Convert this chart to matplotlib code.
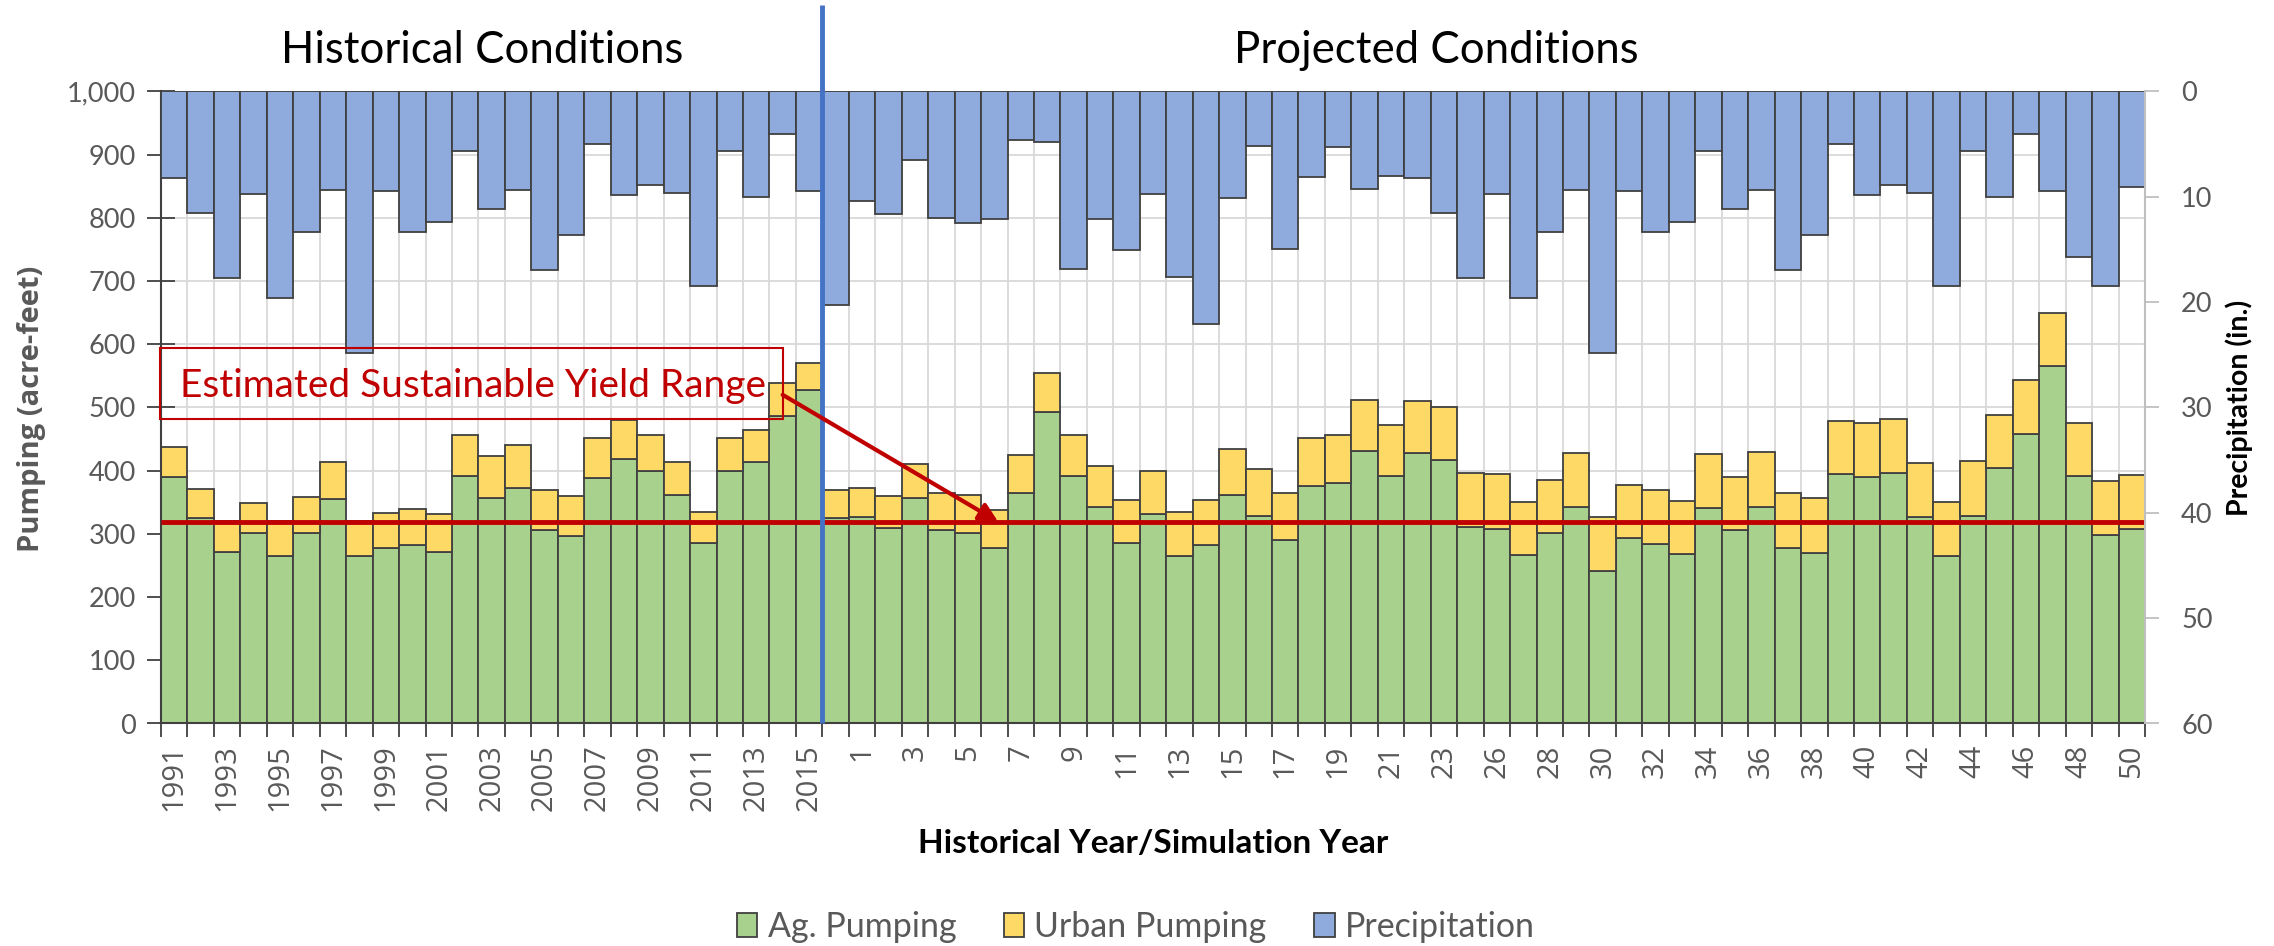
import numpy as np
import matplotlib
matplotlib.use("Agg")
import matplotlib.pyplot as plt
from matplotlib.patches import Rectangle, Patch
from matplotlib.ticker import FuncFormatter
import matplotlib.transforms as mtransforms

plt.rcParams['font.family'] = ['Lato', 'DejaVu Sans']

# category labels (only every other one is shown on the axis)
hist_years = [str(y) for y in range(1991, 2016)]
sim_years = [str(i) for i in range(0, 24)] + [str(i) for i in range(25, 51)]

# pumping (acre-feet)
hist_ag = [390, 325, 272, 301, 265, 302, 355, 265, 277, 282, 271, 392, 356,
           372, 306, 297, 388, 418, 399, 361, 285, 399, 413, 487, 527]
hist_urban = [47, 46, 48, 48, 55, 57, 58, 55, 56, 58, 60, 64, 67,
              69, 64, 63, 63, 62, 58, 53, 50, 52, 51, 52, 43]
sim_ag = [325, 326, 310, 356, 306, 302, 278, 364, 493, 392,
          342, 286, 331, 265, 283, 361, 329, 290, 376, 380,
          431, 392, 428, 417, 311, 308, 266, 301, 343, 241,
          293, 284, 268, 341, 306, 343, 278, 269, 394, 390,
          397, 327, 265, 329, 404, 458, 565, 392, 298, 308]
sim_urban = [44, 47, 50, 54, 58, 60, 60, 61, 62, 64,
             66, 68, 68, 70, 71, 73, 74, 75, 75, 77,
             80, 81, 82, 83, 85, 86, 85, 85, 85, 85,
             84, 86, 84, 86, 84, 86, 86, 87, 84, 86,
             84, 85, 85, 86, 84, 85, 84, 84, 86, 85]

# precipitation (in.)
hist_precip = [8.2, 11.5, 17.7, 9.7, 19.6, 13.3, 9.4, 24.8, 9.5, 13.3, 12.4, 5.7, 11.2,
               9.4, 17.0, 13.6, 5.0, 9.8, 8.9, 9.6, 18.5, 5.7, 10.0, 4.0, 9.5]
sim_precip = [20.3, 10.4, 11.6, 6.5, 12.0, 12.5, 12.1, 4.6, 4.8, 16.9,
              12.1, 15.1, 9.7, 17.6, 22.1, 10.1, 5.2, 15.0, 8.1, 5.3,
              9.3, 8.0, 8.2, 11.5, 17.7, 9.7, 19.6, 13.3, 9.4, 24.8,
              9.5, 13.3, 12.4, 5.7, 11.2, 9.4, 17.0, 13.6, 5.0, 9.8,
              8.9, 9.6, 18.5, 5.7, 10.0, 4.0, 9.5, 15.7, 18.5, 9.1]

sustainable_yield = 318

labels = hist_years + sim_years
ag = hist_ag + sim_ag
urban = hist_urban + sim_urban
precip = hist_precip + sim_precip
x = np.arange(len(labels))

green = '#A9D18E'
yellow = '#FFD966'
blue = '#8FAADC'
edge = '#404040'
red = '#C00000'
gray = '#595959'

fig = plt.figure(figsize=(22.74, 9.46), dpi=100)
ax = fig.add_axes([161 / 2274, 1 - 723.5 / 946, (2145 - 161) / 2274, (723.5 - 91.4) / 946])

ax.bar(x, ag, width=1.0, color=green, edgecolor=edge, linewidth=1.3)
ax.bar(x, urban, bottom=ag, width=1.0, color=yellow, edgecolor=edge, linewidth=1.3)
ax.set_xlim(-0.5, len(labels) - 0.5)
ax.set_ylim(0, 1000)
ax.set_yticks(range(0, 1001, 100))
ax.yaxis.set_major_formatter(FuncFormatter(lambda v, p: f'{int(v):,}'))
ax.set_xticks(x[::2])
ax.set_xticklabels(labels[::2], rotation=90, family='Open Sans')
ax.set_xticks(np.arange(-0.5, len(labels), 1), minor=True)
ax.grid(which='minor', axis='x', color='#D9D9D9', lw=1.3)
ax.grid(which='major', axis='y', color='#D9D9D9', lw=1.3)
ax.set_axisbelow(True)
ax.tick_params(axis='x', which='major', length=0, pad=15, labelsize=21, labelcolor=gray)
ax.tick_params(axis='x', which='minor', length=10, width=1.3, color=edge, direction='out')
ax.tick_params(axis='y', direction='inout', length=20, width=1.3, color=edge,
               labelsize=19.5, labelcolor=gray, pad=8)
for s in ['top', 'right']:
    ax.spines[s].set_visible(False)
for s in ['left', 'bottom']:
    ax.spines[s].set_color(edge)
    ax.spines[s].set_linewidth(1.5)

ax2 = ax.twinx()
ax2.bar(x, precip, width=1.0, color=blue, edgecolor=edge, linewidth=1.3)
ax2.set_ylim(60, 0)
ax2.set_yticks(range(0, 61, 10))
ax2.tick_params(axis='y', direction='out', length=10, width=1.3, color='#BFBFBF',
                labelsize=19.5, labelcolor=gray, pad=16)
for s in ['top', 'left', 'bottom']:
    ax2.spines[s].set_visible(False)
ax2.spines['right'].set_color('#BFBFBF')
ax2.spines['right'].set_linewidth(1.5)

# sustainable yield line, divider, annotation
ax2.plot([-0.5, len(labels) - 0.5], [sustainable_yield, sustainable_yield],
         transform=ax.transData, color=red, lw=3.5, solid_capstyle='butt')
blend = mtransforms.blended_transform_factory(ax.transData, ax.transAxes)
ax2.plot([24.5, 24.5], [0, 1.137], transform=blend, color='#4472C4', lw=3.5,
         clip_on=False, solid_capstyle='butt')
box = Rectangle((-0.54, 482), 23.54, 112, transform=ax.transData, fill=False,
                edgecolor=red, lw=1.5, clip_on=False)
ax2.add_artist(box)
ax2.text(11.3, 517, 'Estimated Sustainable Yield Range', transform=ax.transData,
         ha='center', va='baseline', color=red, fontsize=28)
ax2.annotate('', xy=(31.15, 319), xytext=(23.0, 520), xycoords=ax.transData,
             textcoords=ax.transData,
             arrowprops=dict(arrowstyle='-|>', color=red, lw=3, mutation_scale=28,
                             shrinkA=0, shrinkB=0))

fig.text(482 / 2274, 1 - 63 / 946, 'Historical Conditions', ha='center', va='baseline', fontsize=31.5)
fig.text(1436 / 2274, 1 - 63 / 946, 'Projected Conditions', ha='center', va='baseline', fontsize=31.5)
fig.text(1153 / 2274, 1 - 853 / 946, 'Historical Year/Simulation Year', ha='center',
         va='baseline', fontsize=24, weight='bold')
fig.text(32 / 2274, 1 - 409 / 946, 'Pumping (acre-feet)', rotation=90, ha='center',
         va='center', fontsize=21, weight='bold', color=gray, family='Open Sans')
fig.text(2239 / 2274, 1 - 408 / 946, 'Precipitation (in.)', rotation=90, ha='center',
         va='center', fontsize=20.5, weight='bold')

handles = [Patch(facecolor=green, edgecolor=edge, lw=1.3, label='Ag. Pumping'),
           Patch(facecolor=yellow, edgecolor=edge, lw=1.3, label='Urban Pumping'),
           Patch(facecolor=blue, edgecolor=edge, lw=1.3, label='Precipitation')]
fig.legend(handles=handles, loc='center', bbox_to_anchor=(1136 / 2274, 19 / 946), ncol=3,
           frameon=False, fontsize=24.5, handlelength=0.6, handleheight=0.7,
           handletextpad=0.3, columnspacing=1.4, labelcolor=gray)

fig.savefig('out.png', dpi=100)
